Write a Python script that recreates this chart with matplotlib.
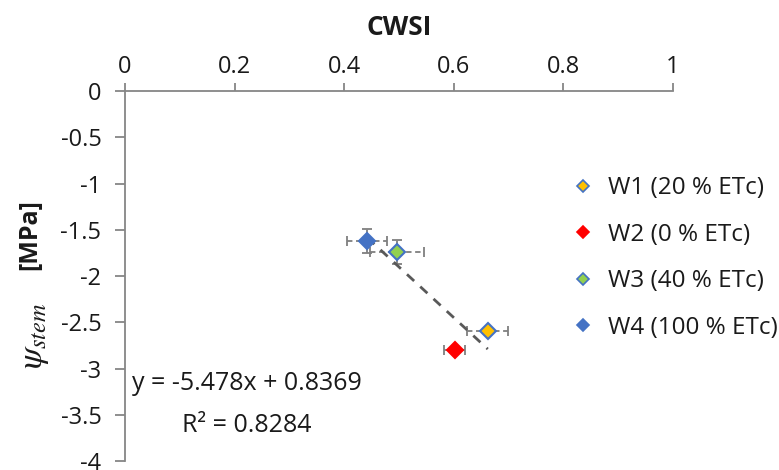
import matplotlib
matplotlib.use("Agg")
import matplotlib.pyplot as plt
from matplotlib.lines import Line2D
import numpy as np

plt.rcParams['font.family'] = ['Open Sans', 'DejaVu Sans']
plt.rcParams['mathtext.fontset'] = 'stix'

# data
labels = ['W1 (20 % ETc)', 'W2 (0 % ETc)', 'W3 (40 % ETc)', 'W4 (100 % ETc)']
cwsi = [0.662, 0.602, 0.496, 0.442]
psi = [-2.59, -2.80, -1.74, -1.62]
cwsi_err = [0.037, 0.019, 0.049, 0.037]
psi_err = [0.03, 0.03, 0.13, 0.13]
face = ['#FFC000', '#FF0000', '#92D050', '#4472C4']
edge = ['#4472C4', '#FF0000', '#4472C4', '#4472C4']

slope, intercept, r2 = -5.478, 0.8369, 0.8284
xticks = [0, 0.2, 0.4, 0.6, 0.8, 1]
yticks = [0, -0.5, -1, -1.5, -2, -2.5, -3, -3.5, -4]

fig = plt.figure(figsize=(7.79, 4.70), dpi=100)
ax = fig.add_axes([0.1605, 0.0191, 0.7034, 0.7872])

axis_col = '#868686'
err_col = '#7F7F7F'
txt_col = '#1A1A1A'

# error bars
for i in range(len(cwsi)):
    _, caps, bars = ax.errorbar(cwsi[i], psi[i], xerr=cwsi_err[i], yerr=psi_err[i],
                                fmt='none', ecolor=err_col, elinewidth=1.3,
                                capsize=3.5, capthick=1.3, zorder=2)
    for b in bars:
        b.set_linestyle((0, (3, 2)))

# trendline
xt = np.array([min(cwsi), max(cwsi)])
ax.plot(xt, slope * xt + intercept, color='#595959', lw=2, ls=(0, (3.5, 3)), zorder=3)

# points
for i in range(len(cwsi)):
    ax.plot(cwsi[i], psi[i], marker='D', ms=8.5, mfc=face[i], mec=edge[i],
            mew=1.5, ls='none', zorder=4)

ax.set_xlim(0, 1)
ax.set_ylim(-4, 0)
ax.set_xticks(xticks)
ax.set_xticklabels(['0', '0.2', '0.4', '0.6', '0.8', '1'])
ax.set_yticks(yticks)
ax.set_yticklabels(['0', '-0.5', '-1', '-1.5', '-2', '-2.5', '-3', '-3.5', '-4'])

ax.xaxis.tick_top()
ax.xaxis.set_label_position('top')
for s in ['right', 'bottom']:
    ax.spines[s].set_visible(False)
for s in ['top', 'left']:
    ax.spines[s].set_color(axis_col)
    ax.spines[s].set_linewidth(1.3)
ax.tick_params(axis='x', direction='out', length=6, width=1.3, labelsize=17,
               pad=3, labelcolor=txt_col, color=axis_col)
ax.tick_params(axis='y', direction='out', length=7, width=1.3, labelsize=17,
               pad=10, labelcolor=txt_col, color=axis_col)
ax.set_xlabel('CWSI', fontsize=19, fontweight='bold', labelpad=14, color=txt_col)

# y label: serif psi and bold sans unit
fig.text(34 / 779, 1 - 336 / 470, r'$\psi_{stem}$', rotation=90, fontsize=25,
         ha='center', va='center', color=txt_col)
fig.text(30 / 779, 1 - 235 / 470, '[MPa]', rotation=90, fontsize=18,
         fontweight='bold', ha='center', va='center', color=txt_col)

# equation
fig.text(132 / 779, 1 - 383 / 470, 'y = -5.478x + 0.8369', fontsize=18,
         ha='left', va='center', color=txt_col)
fig.text(182 / 779, 1 - 425 / 470, 'R² = 0.8284', fontsize=18,
         ha='left', va='center', color=txt_col)

handles = [Line2D([], [], marker='D', ms=6, mfc=face[i], mec=edge[i], mew=1.2,
                  ls='none') for i in range(len(labels))]
fig.legend(handles, labels, loc='center left', bbox_to_anchor=(0.733, 0.451),
           frameon=False, fontsize=17.5, handlelength=1.0, handletextpad=0.53,
           labelspacing=0.92, borderpad=0, borderaxespad=0, labelcolor=txt_col)

fig.savefig('out.png', dpi=100)
